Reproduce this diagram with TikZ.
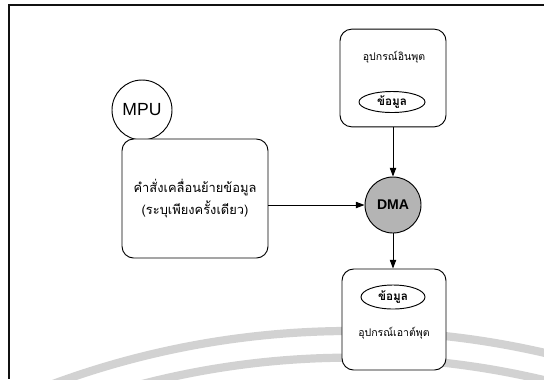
\documentclass[tikz,border=0pt]{standalone}
\usepackage{fontspec}
\setmainfont{Liberation Sans}
\newfontfamily\thaifont[Script=Thai]{Loma}
\usetikzlibrary{arrows.meta,shapes.geometric}
\definecolor{frame}{HTML}{111111}
\definecolor{watermark}{HTML}{D2D2D2}
\definecolor{dmafill}{HTML}{B4B4B4}

\begin{document}
\begin{tikzpicture}[x=0.03cm,y=-0.03cm,
  box/.style={draw,line width=0.8pt,rounded corners=0.35cm,inner sep=0pt,fill=white},
  datum/.style={draw,ellipse,line width=0.8pt,inner sep=0pt,font=\thaifont\bfseries\fontsize{10}{12}\selectfont},
  flow/.style={line width=0.8pt,-{Triangle[length=2.6mm,width=1.9mm]}}]
  \useasboundingbox (0,0) rectangle (544,379);

  % Watermark arcs
  \begin{scope}
    \clip (0,0) rectangle (544,379);
    \draw[watermark,line width=7pt] (351,1191) circle[radius=25.8cm];
    \draw[watermark,line width=7pt] (351,1191) circle[radius=25.0cm];
  \end{scope}

  % Frame
  \draw[frame,line width=1.3pt] (544,5) -- (9,5) -- (9,379);

  % MPU and command
  \node[draw,circle,line width=0.8pt,minimum size=1.8cm,inner sep=0pt,fill=white,font=\fontsize{15}{17}\selectfont] (mpu) at (142,110) {MPU};
  \node[box,minimum width=4.38cm,minimum height=3.57cm,align=center,
        font=\thaifont\fontsize{11}{18}\selectfont] (cmd) at (195,198.5)
        {คำสั่งเคลื่อนย้ายข้อมูล\\(ระบุเพียงครั้งเดียว)};

  % Input device
  \node[box,minimum width=3.18cm,minimum height=2.93cm] (inbox) at (393,78) {};
  \node[font=\thaifont\fontsize{9}{11}\selectfont] (inlabel) at (394,57) {อุปกรณ์อินพุต};
  \node[datum,minimum width=1.98cm,minimum height=0.63cm] (indata) at (392,102) {ข้อมูล};

  % DMA
  \node[draw,circle,line width=0.8pt,fill=dmafill,minimum size=1.68cm,inner sep=0pt,font=\bfseries\fontsize{12}{14}\selectfont] (dma) at (393,205) {DMA};

  % Output device
  \node[box,minimum width=3.12cm,minimum height=3.03cm] (outbox) at (394,319.5) {};
  \node[datum,minimum width=1.92cm,minimum height=0.72cm] (outdata) at (393,297) {ข้อมูล};
  \node[font=\thaifont\fontsize{9}{11}\selectfont] (outlabel) at (394,333) {อุปกรณ์เอาต์พุต};

  % Transfers
  \draw[flow] (inbox.south -| dma) -- (dma.north);
  \draw[flow] (cmd.east |- dma) -- (dma.west);
  \draw[flow] (dma.south) -- (outbox.north -| dma);
\end{tikzpicture}
\end{document}
